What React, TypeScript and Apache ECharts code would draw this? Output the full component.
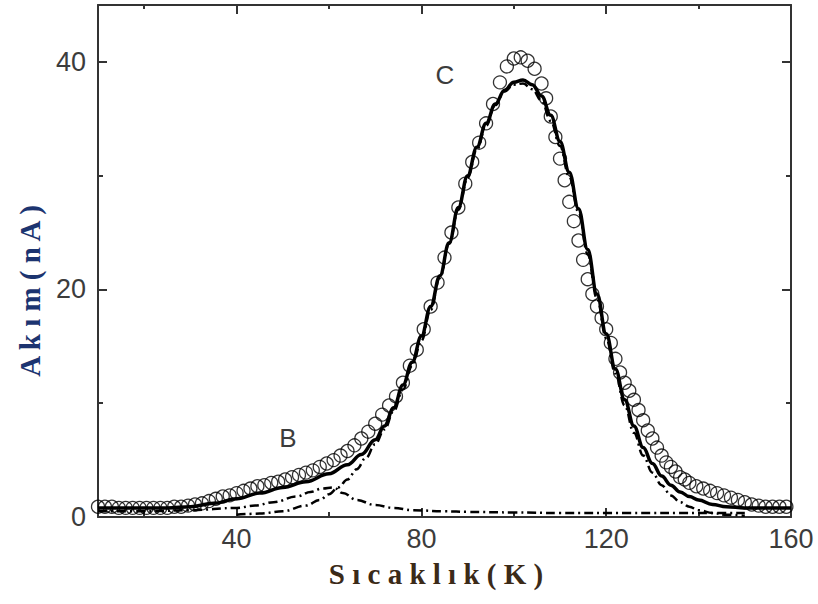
import React, { useEffect, useRef } from "react";
import * as echarts from "echarts";

// Experimental points (open circles)
const circleT = [
  10, 11.5, 13, 14.5, 16, 17.5, 19, 20.5, 22, 23.5, 25, 26.5, 28, 29.5, 31, 32.5, 34, 35.5, 37, 38.5,
  40, 41.5, 43, 44.5, 46, 47.5, 49, 50.5, 52, 53.5, 55, 56.5, 58, 59.5, 61, 62.5, 64, 65.5, 67, 68.5,
  70, 71.5, 73, 74.5, 76, 77.5, 79, 80.5, 82, 83.5, 85, 86.5, 88, 89.5, 91, 92.5, 94, 95.5, 97, 98.5,
  100, 101.5, 103, 104.5, 106, 107, 108, 109, 110, 111, 112, 113, 114, 115, 116, 117, 118, 119, 120,
  121, 122, 123, 124, 125, 126, 127, 128, 129, 130, 131, 132, 133, 134, 135, 136, 137, 138, 139.5,
  141, 142.5, 144, 145.5, 147, 148.5, 150, 151.5, 153, 154.5, 156, 157.5, 159,
];
const circleV = [
  0.9, 0.9, 0.9, 0.8, 0.8, 0.8, 0.8, 0.8, 0.8, 0.8, 0.8, 0.9, 0.9, 1.0, 1.1, 1.2, 1.4, 1.6, 1.8, 1.9,
  2.1, 2.3, 2.5, 2.7, 2.8, 3.0, 3.1, 3.3, 3.5, 3.7, 3.9, 4.1, 4.4, 4.7, 5.0, 5.4, 5.8, 6.3, 6.9, 7.5,
  8.2, 9.0, 9.8, 10.6, 11.8, 13.3, 14.7, 16.5, 18.5, 20.6, 22.8, 25.0, 27.2, 29.3, 31.2, 32.9, 34.6, 36.3, 38.2, 39.6,
  40.3, 40.4, 40.1, 39.4, 38.1, 36.8, 35.2, 33.4, 31.5, 29.6, 27.7, 26.0, 24.3, 22.6, 20.9, 19.6, 18.5, 17.5, 16.5,
  15.3, 13.9, 12.7, 11.8, 11.1, 10.3, 9.4, 8.5, 7.6, 6.9, 6.1, 5.4, 4.8, 4.4, 4.0, 3.5, 3.3, 3.0, 2.7,
  2.5, 2.3, 2.1, 1.9, 1.7, 1.5, 1.3, 1.1, 1.0, 0.9, 0.9, 0.9, 0.9,
];

// Total fit (solid line)
const fitT = [
  10, 15, 20, 25, 30, 35, 40, 45, 50, 55, 60, 64, 67, 70, 72, 74, 76, 78, 80, 82, 84, 86, 88, 90, 92, 94,
  96, 98, 100, 102, 104, 106, 108, 110, 112, 114, 116, 118, 120, 122, 124, 126, 128, 130, 132, 134, 136,
  138, 140, 143, 146, 150, 155, 160,
];
const fitV = [
  0.8, 0.8, 0.8, 0.8, 0.9, 1.2, 1.6, 2.1, 2.6, 3.1, 3.8, 4.6, 5.5, 6.8, 8.0, 9.6, 11.6, 13.6, 15.9, 18.5,
  21.2, 24.1, 27.2, 30.0, 32.5, 34.6, 36.3, 37.5, 38.2, 38.4, 38.0, 37.0, 35.3, 33.0, 30.3, 27.1, 23.5,
  19.6, 16.1, 13.0, 10.3, 8.0, 6.1, 4.7, 3.6, 2.8, 2.2, 1.8, 1.5, 1.1, 0.9, 0.8, 0.8, 0.8,
];

// Peak B component (dash-dot)
const peakBT = [10, 20, 30, 40, 44, 48, 53, 56, 58.5, 61, 63, 66, 70, 74, 78, 85, 90, 100, 110, 125, 140, 150];
const peakBV = [0.5, 0.5, 0.6, 0.8, 1.0, 1.3, 1.8, 2.2, 2.5, 2.6, 2.1, 1.5, 1.05, 0.8, 0.6, 0.5, 0.45, 0.4, 0.35, 0.35, 0.35, 0.35];

// Peak C component (dash-dot)
const peakCT = [
  40, 45, 50, 55, 58, 60, 62, 64, 66, 68, 70, 72, 74, 76, 78, 80, 82, 84, 86, 88, 90, 92, 94, 96, 98, 100,
  102, 104, 106, 108, 110, 112, 114, 116, 118, 120, 122, 124, 126, 128, 130, 132, 134, 136, 138, 140, 143,
  146, 150,
];
const peakCV = [
  0.2, 0.3, 0.5, 1.0, 1.5, 2.0, 2.6, 3.3, 4.2, 5.2, 6.4, 7.7, 9.3, 11.2, 13.3, 15.5, 18.2, 21.0, 24.0, 27.0,
  29.8, 32.3, 34.4, 36.2, 37.4, 38.0, 38.1, 37.6, 36.6, 34.8, 32.6, 29.9, 26.8, 23.1, 19.2, 15.7, 12.6, 9.8,
  7.4, 5.4, 3.9, 2.8, 1.9, 1.3, 0.9, 0.6, 0.35, 0.2, 0.1,
];

const xMajor = [40, 80, 120, 160];
const xMinor = [20, 60, 100, 140];
const yMajor = [0, 20, 40];
const yMinor = [10, 30];

const X_MIN = 10;
const X_MAX = 160;
const Y_MIN = 0;
const Y_MAX = 45;

const zip = (a: number[], b: number[]) => a.map((t, i) => [t, b[i]]);

const AXIS_COLOR = "#333333";
const LABEL_COLOR = "#3c3c3c";

export default function App() {
  const ref = useRef<HTMLDivElement>(null);

  useEffect(() => {
    if (!ref.current) return;
    const chart = echarts.init(ref.current, undefined, { renderer: "svg" });

    const mkX = (position: "top" | "bottom", ticks: number[], len: number, showLine: boolean, showLabel: boolean) => ({
      type: "value",
      position,
      min: X_MIN,
      max: X_MAX,
      axisLine: { show: showLine, onZero: false, lineStyle: { color: AXIS_COLOR, width: 2 } },
      axisTick: { show: true, inside: true, length: len, customValues: ticks, lineStyle: { color: AXIS_COLOR, width: 2 } },
      axisLabel: {
        show: showLabel,
        customValues: ticks,
        color: LABEL_COLOR,
        fontFamily: "Liberation Sans, Arial, sans-serif",
        fontSize: 27,
        margin: 8,
      },
      splitLine: { show: false },
    });
    const mkY = (position: "left" | "right", ticks: number[], len: number, showLine: boolean, showLabel: boolean) => ({
      type: "value",
      position,
      min: Y_MIN,
      max: Y_MAX,
      axisLine: { show: showLine, onZero: false, lineStyle: { color: AXIS_COLOR, width: 2 } },
      axisTick: { show: true, inside: true, length: len, customValues: ticks, lineStyle: { color: AXIS_COLOR, width: 2 } },
      axisLabel: {
        show: showLabel,
        customValues: ticks,
        color: LABEL_COLOR,
        fontFamily: "Liberation Sans, Arial, sans-serif",
        fontSize: 27,
        margin: 12,
        padding: [0, 0, 6, 0],
      },
      splitLine: { show: false },
    });

    const dashDot = [9, 4, 2, 4];

    chart.setOption({
      animation: false,
      backgroundColor: "#ffffff",
      grid: { left: 98, top: 5, width: 693, height: 512, containLabel: false },
      xAxis: [
        mkX("bottom", xMajor, 9, true, true),
        mkX("bottom", xMinor, 5, false, false),
        mkX("top", xMajor, 9, true, false),
        mkX("top", xMinor, 4, false, false),
      ],
      yAxis: [
        mkY("left", yMajor, 9, true, true),
        mkY("left", yMinor, 5, false, false),
        mkY("right", yMajor, 9, true, false),
        mkY("right", yMinor, 5, false, false),
      ],
      series: [
        {
          name: "B",
          type: "line",
          data: zip(peakBT, peakBV),
          showSymbol: false,
          symbol: "none",
          smooth: 0.4,
          smoothMonotone: "x",
          lineStyle: { color: "#000", width: 2.5, type: dashDot },
          z: 2,
        },
        {
          name: "C",
          type: "line",
          data: zip(peakCT, peakCV),
          showSymbol: false,
          symbol: "none",
          smooth: 0.4,
          smoothMonotone: "x",
          lineStyle: { color: "#000", width: 2.5, type: dashDot },
          z: 2,
        },
        {
          name: "fit",
          type: "line",
          data: zip(fitT, fitV),
          showSymbol: false,
          symbol: "none",
          smooth: 0.4,
          smoothMonotone: "x",
          lineStyle: { color: "#000", width: 3.5 },
          z: 3,
        },
        {
          name: "data",
          type: "scatter",
          data: zip(circleT, circleV),
          symbol: "circle",
          symbolSize: 13,
          itemStyle: { color: "rgba(0,0,0,0)", borderColor: "#000", borderWidth: 1.3 },
          z: 4,
        },
      ],
      graphic: [
        {
          type: "text",
          x: 288,
          y: 438,
          style: {
            text: "B",
            fill: "#3c3c3c",
            font: '26px "Liberation Sans", Arial, sans-serif',
            textAlign: "center",
            textVerticalAlign: "middle",
          },
        },
        {
          type: "text",
          x: 445,
          y: 75,
          style: {
            text: "C",
            fill: "#3c3c3c",
            font: '26px "Liberation Sans", Arial, sans-serif',
            textAlign: "center",
            textVerticalAlign: "middle",
          },
        },
        {
          type: "text",
          x: 436,
          y: 574,
          style: {
            text: "S ı c a k l ı k ( K )",
            fill: "#3b2a18",
            font: 'bold 29px "Liberation Serif", "Times New Roman", serif',
            textAlign: "center",
            textVerticalAlign: "middle",
          },
        },
        {
          type: "text",
          x: 30,
          y: 291,
          rotation: Math.PI / 2,
          style: {
            text: "A k ı m ( n A )",
            fill: "#1c3470",
            font: 'bold 29px "Liberation Serif", "Times New Roman", serif',
            textAlign: "center",
            textVerticalAlign: "middle",
          },
        },
      ],
    });

    return () => chart.dispose();
  }, []);

  return <div ref={ref} style={{ width: 818, height: 604, position: "absolute", left: 0, top: 0 }} />;
}
